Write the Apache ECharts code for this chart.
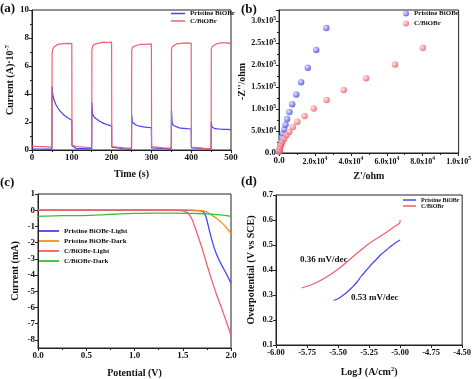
<!DOCTYPE html>
<html><head><meta charset="utf-8">
<script src="https://cdn.jsdelivr.net/npm/echarts@6/dist/echarts.min.js"></script>
<style>html,body{margin:0;padding:0;background:#fff}#c{width:474px;height:379px}</style>
</head><body><div id="c"></div>
<script>
// ---- Panel (a): photocurrent vs time ----
var aPristine = [[0,0.08],[10,0.07],[20,0.07],[30,0.06],[40,0.06],[50,0.06],[50.5,4.55],[52,4.0],[55,3.6],[60,3.25],[65,3.0],[70,2.8],[75,2.65],[80,2.5],[85,2.4],[90,2.3],[95,2.2],[100,2.12],[100.5,0.3],[103,0.18],[110,0.12],[130,0.1],[150,0.08],
[150.5,3.4],[152,2.6],[155,2.4],[160,2.25],[170,2.05],[180,1.9],[190,1.8],[200,1.72],[200.5,0.2],[205,0.12],[230,0.1],[250,0.08],
[250.5,2.5],[252,2.0],[255,1.9],[260,1.8],[270,1.7],[280,1.65],[290,1.62],[300,1.6],[300.5,0.15],[305,0.1],[350,0.08],
[350.5,2.85],[352,1.95],[355,1.75],[360,1.65],[370,1.58],[380,1.55],[390,1.52],[400,1.5],[400.5,0.15],[405,0.1],[450,0.08],
[450.5,2.0],[452,1.65],[455,1.55],[460,1.52],[470,1.5],[480,1.48],[490,1.47],[500,1.45]];
var aCarbon = [[0,0.28],[10,0.26],[25,0.24],[40,0.22],[50,0.2],[50.5,6.9],[52,7.2],[55,7.35],[60,7.45],[65,7.55],[70,7.55],[80,7.6],[90,7.62],[100,7.6],[100.5,0.35],[103,0.3],[110,0.25],[130,0.2],[150,0.18],
[150.5,7.1],[152,7.4],[156,7.55],[160,7.6],[170,7.65],[180,7.7],[190,7.68],[200,7.7],[200.5,0.25],[205,0.2],[230,0.15],[250,0.14],
[250.5,7.15],[253,7.35],[258,7.45],[265,7.5],[275,7.55],[285,7.55],[300,7.58],[300.5,0.25],[305,0.2],[330,0.15],[350,0.13],
[350.5,7.2],[353,7.4],[358,7.5],[365,7.6],[375,7.62],[390,7.65],[400,7.62],[400.5,0.2],[405,0.15],[430,0.12],[450,0.1],
[450.5,7.2],[453,7.4],[458,7.5],[465,7.6],[475,7.65],[490,7.65],[500,7.6]];
// ---- Panel (b): Nyquist plot ----
var bPristine = [[200,4000],[400,10000],[700,17000],[1100,26000],[1600,35000],[2200,44000],[2900,53500],[3600,64000],[4500,77000],[5800,93000],[7300,111000],[9600,133000],[12300,161000],[16000,194000],[20700,234000],[26300,284000]];
var bCarbon = [[200,3000],[400,7500],[700,13500],[1300,20000],[2000,26000],[2900,33000],[4200,41000],[5700,48000],[7700,59000],[10200,71000],[14200,84000],[19300,101000],[26500,120600],[36000,143000],[48500,170000],[64600,201000],[80100,239000]];
// ---- Panel (c): LSV ----
var cPristineLight = [[0,0],[0.5,0],[1.0,0],[1.5,0],[1.65,-0.02],[1.7,-0.06],[1.72,-0.15],[1.74,-0.4],[1.76,-0.85],[1.78,-1.35],[1.8,-1.8],[1.83,-2.4],[1.86,-2.85],[1.9,-3.35],[1.95,-3.9],[2.0,-4.5]];
var cPristineDark = [[0,0.02],[1.0,0.02],[1.6,0.01],[1.7,-0.02],[1.75,-0.12],[1.8,-0.3],[1.85,-0.5],[1.9,-0.75],[1.95,-1.05],[2.0,-1.45]];
var cCarbonLight = [[0,0],[1.0,0],[1.4,-0.01],[1.48,-0.03],[1.52,-0.08],[1.55,-0.15],[1.57,-0.3],[1.6,-0.6],[1.62,-0.95],[1.65,-1.45],[1.7,-2.35],[1.75,-3.35],[1.8,-4.3],[1.85,-5.2],[1.9,-6.0],[1.95,-6.85],[2.0,-7.7]];
var cCarbonDark = [[0,-0.38],[0.1,-0.36],[0.25,-0.33],[0.4,-0.33],[0.55,-0.32],[0.7,-0.27],[0.85,-0.23],[1.0,-0.2],[1.2,-0.18],[1.4,-0.18],[1.6,-0.2],[1.75,-0.22],[1.85,-0.27],[1.95,-0.33],[2.0,-0.38]];
var cYTicks = [-8,-7,-6,-5,-4,-3,-2,-1,0,1];
// ---- Panel (d): Tafel ----
var dPristine = [[-5.536,0.278],[-5.5,0.285],[-5.47,0.295],[-5.43,0.31],[-5.392,0.328],[-5.35,0.35],[-5.313,0.375],[-5.27,0.4],[-5.234,0.421],[-5.19,0.443],[-5.156,0.461],[-5.11,0.48],[-5.077,0.494],[-5.04,0.508],[-5.0,0.52]];
var dCarbon = [[-5.793,0.328],[-5.72,0.34],[-5.654,0.355],[-5.59,0.373],[-5.523,0.395],[-5.47,0.415],[-5.418,0.437],[-5.36,0.462],[-5.313,0.481],[-5.26,0.502],[-5.208,0.52],[-5.15,0.538],[-5.103,0.553],[-5.05,0.572],[-5.01,0.585],[-5.002,0.59],[-5.0,0.6]];
var dNotes = ['0.36 mV/dec','0.53 mV/dec'];

var BLUE='#4646ec', RED='#f0606e', ORANGE='#f0901e', GREEN='#34c234';
var FF='"Liberation Serif","Times New Roman",serif';
var lbl = {fontFamily:FF,fontWeight:'bold',fontSize:9,color:'#111',margin:3};
var nm = {fontFamily:FF,fontWeight:'bold',fontSize:10,color:'#111'};
function axisBase(o){
  var base = {
    axisLine:{show:true,onZero:false,lineStyle:{color:'#222',width:1}},
    axisTick:{show:true,length:3,lineStyle:{color:'#222'}},
    minorTick:{show:true,splitNumber:2,length:2,lineStyle:{color:'#222'}},
    splitLine:{show:false},
    axisLabel:Object.assign({},lbl),
    nameLocation:'middle',
    nameTextStyle:Object.assign({},nm)
  };
  for (var k in o){ if (k==='axisLabel'||k==='nameTextStyle'||k==='axisTick'){ base[k]=Object.assign({},base[k],o[k]); } else base[k]=o[k]; }
  return base;
}
function sci(v){
  if (v===0) return '0.0';
  var e = Math.floor(Math.log10(v)+1e-9), m = v/Math.pow(10,e);
  return '{m|'+m.toFixed(1)+'x10}{s|'+e+'}';
}
var sciRich = {m:{fontFamily:FF,fontWeight:'bold',fontSize:8,color:'#111',lineHeight:11},s:{fontFamily:FF,fontWeight:'bold',fontSize:5.5,color:'#111',verticalAlign:'top',lineHeight:11}};
var gridStyle = {show:true,borderColor:'#222',borderWidth:1,backgroundColor:'transparent'};
function legText(sz,lh){ return {fontFamily:FF,fontWeight:'bold',fontSize:sz,lineHeight:lh,color:'#111'}; }
function strip(n){ return n.split(':')[1]; }

var option = {
  animation:false,
  backgroundColor:'#fff',
  grid:[
    Object.assign({left:32,top:10,width:199,height:140,containLabel:false},gridStyle),
    Object.assign({left:279,top:10,width:184,height:143,containLabel:false},gridStyle),
    Object.assign({left:38,top:194,width:193,height:154,containLabel:false},gridStyle),
    Object.assign({left:276,top:195,width:191,height:151,containLabel:false},gridStyle)
  ],
  xAxis:[
    axisBase({gridIndex:0,type:'value',min:0,max:500,interval:100,name:'Time (s)',nameGap:19}),
    axisBase({gridIndex:1,type:'value',min:0,max:100000,interval:20000,name:"Z'/ohm",nameGap:18,
      axisLabel:{formatter:sci,rich:sciRich}}),
    axisBase({gridIndex:2,type:'value',min:0,max:2,interval:0.5,name:'Potential (V)',nameGap:20,
      axisLabel:{formatter:function(v){return v.toFixed(1);}}}),
    axisBase({gridIndex:3,type:'value',min:-6,max:-4.5,interval:0.25,name:'LogJ (A/cm{s|2})',nameGap:21,
      minorTick:{show:false},
      axisLabel:{formatter:function(v){return v.toFixed(2);},fontSize:8.5},
      nameTextStyle:{rich:{s:{fontFamily:FF,fontWeight:'bold',fontSize:6.5,color:'#111',verticalAlign:'top',lineHeight:12}},lineHeight:12}})
  ],
  yAxis:[
    axisBase({gridIndex:0,type:'value',min:0,max:10,interval:2,name:'Current (A)·10{s|-7}',nameGap:14,
      nameTextStyle:{rich:{s:{fontFamily:FF,fontWeight:'bold',fontSize:6.5,color:'#111',verticalAlign:'top',lineHeight:12}},lineHeight:12}}),
    axisBase({gridIndex:1,type:'value',min:0,max:325000,interval:50000,name:"-Z''/ohm",nameGap:29,
      axisLabel:{formatter:function(v){return v>300000?'':sci(v);},rich:sciRich}}),
    axisBase({gridIndex:2,type:'value',min:-8.5,max:1,name:'Current (mA)',nameGap:18,
      minorTick:{show:false},
      axisLabel:{customValues:cYTicks,formatter:function(v){return String(Math.round(v));}},
      axisTick:{customValues:cYTicks}}),
    axisBase({gridIndex:3,type:'value',min:0.1,max:0.7,interval:0.1,name:'Overpotential (V vs SCE)',nameGap:20,
      minorTick:{show:false},
      axisLabel:{formatter:function(v){return v.toFixed(1);},fontSize:8.5}})
  ],
  legend:[
    {orient:'vertical',left:171,top:10,itemWidth:14,itemHeight:1.5,itemGap:0.5,padding:0,icon:'rect',textStyle:legText(7,7),
      data:['a:Pristine BiOBr','a:C/BiOBr'],formatter:strip,selectedMode:false},
    {orient:'vertical',left:403,top:10,itemWidth:6,itemHeight:6,itemGap:3,padding:0,textStyle:legText(7,7),icon:'circle',
      data:['b:Pristine BiOBr','b:C/BiOBr'],formatter:strip,selectedMode:false},
    {orient:'vertical',left:39,top:227,itemWidth:20,itemHeight:1.8,itemGap:2,padding:0,icon:'rect',textStyle:legText(7,8),
      data:['c:Pristine BiOBr-Light','c:Pristine BiOBr-Dark','c:C/BiOBr-Light','c:C/BiOBr-Dark'],formatter:strip,selectedMode:false},
    {orient:'vertical',left:403,top:197,itemWidth:13,itemHeight:1.5,itemGap:0,padding:0,icon:'rect',textStyle:legText(6,5.5),
      data:['d:Pristine BiOBr','d:C/BiOBr'],formatter:strip,selectedMode:false}
  ],
  series:[
    {name:'a:Pristine BiOBr',type:'line',xAxisIndex:0,yAxisIndex:0,data:aPristine,symbol:'none',lineStyle:{color:BLUE,width:1.2},itemStyle:{color:BLUE}},
    {name:'a:C/BiOBr',type:'line',xAxisIndex:0,yAxisIndex:0,data:aCarbon,symbol:'none',lineStyle:{color:RED,width:1.2},itemStyle:{color:RED}},
    {name:'b:Pristine BiOBr',type:'scatter',xAxisIndex:1,yAxisIndex:1,data:bPristine,symbolSize:6.5,
      itemStyle:{color:{type:'radial',x:0.35,y:0.35,r:0.7,colorStops:[{offset:0,color:'#d8d8ff'},{offset:1,color:'#3c3ce0'}]}}},
    {name:'b:C/BiOBr',type:'scatter',xAxisIndex:1,yAxisIndex:1,data:bCarbon,symbolSize:6.5,
      itemStyle:{color:{type:'radial',x:0.35,y:0.35,r:0.7,colorStops:[{offset:0,color:'#ffe0e0'},{offset:1,color:'#e8505a'}]}}},
    {name:'c:Pristine BiOBr-Light',type:'line',xAxisIndex:2,yAxisIndex:2,data:cPristineLight,symbol:'none',smooth:0.3,lineStyle:{color:BLUE,width:1.3},itemStyle:{color:BLUE}},
    {name:'c:Pristine BiOBr-Dark',type:'line',xAxisIndex:2,yAxisIndex:2,data:cPristineDark,symbol:'none',smooth:0.3,lineStyle:{color:ORANGE,width:1.3},itemStyle:{color:ORANGE}},
    {name:'c:C/BiOBr-Light',type:'line',xAxisIndex:2,yAxisIndex:2,data:cCarbonLight,symbol:'none',smooth:0.3,lineStyle:{color:RED,width:1.3},itemStyle:{color:RED}},
    {name:'c:C/BiOBr-Dark',type:'line',xAxisIndex:2,yAxisIndex:2,data:cCarbonDark,symbol:'none',smooth:0.3,lineStyle:{color:GREEN,width:1.3},itemStyle:{color:GREEN}},
    {name:'d:Pristine BiOBr',type:'line',xAxisIndex:3,yAxisIndex:3,data:dPristine,symbol:'none',smooth:0.3,lineStyle:{color:BLUE,width:1.2},itemStyle:{color:BLUE}},
    {name:'d:C/BiOBr',type:'line',xAxisIndex:3,yAxisIndex:3,data:dCarbon,symbol:'none',smooth:0.3,lineStyle:{color:RED,width:1.2},itemStyle:{color:RED}}
  ],
  graphic:[
    {type:'text',left:0,top:2,style:{text:'(a)',font:'bold 13px '+FF,fill:'#111'}},
    {type:'text',left:241,top:3,style:{text:'(b)',font:'bold 13px '+FF,fill:'#111'}},
    {type:'text',left:0,top:176,style:{text:'(c)',font:'bold 13px '+FF,fill:'#111'}},
    {type:'text',left:241,top:175,style:{text:'(d)',font:'bold 13px '+FF,fill:'#111'}},
    {type:'text',left:300,top:255,style:{text:dNotes[0],font:'bold 9px '+FF,fill:'#111'}},
    {type:'text',left:351,top:293,style:{text:dNotes[1],font:'bold 9px '+FF,fill:'#111'}}
  ]
};
var chart = echarts.init(document.getElementById('c'),null,{renderer:'canvas'});
chart.setOption(option);
</script></body></html>
